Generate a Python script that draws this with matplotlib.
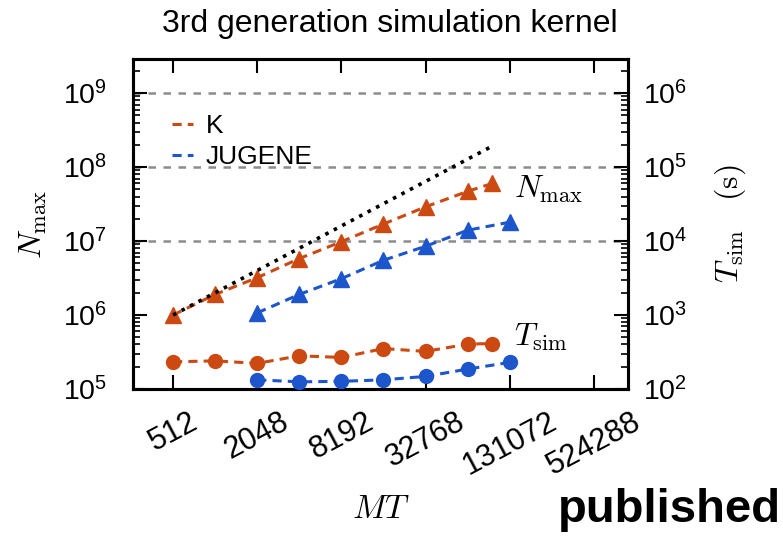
import matplotlib
matplotlib.use('Agg')
import matplotlib.pyplot as plt
from matplotlib.lines import Line2D
from matplotlib.ticker import LogLocator, FixedLocator, NullFormatter

plt.rcParams['font.family'] = ['Liberation Sans', 'DejaVu Sans']
plt.rcParams['mathtext.fontset'] = 'cm'

# MT (processes x threads)
mt_K = [512, 1024, 2048, 4096, 8192, 16384, 32768, 65536, 98304]
mt_J = [2048, 4096, 8192, 16384, 32768, 65536, 131072]

# maximum network size
nmax_K = [1.0e6, 1.9e6, 3.2e6, 5.8e6, 9.8e6, 1.7e7, 2.9e7, 4.7e7, 6.0e7]
nmax_J = [1.07e6, 1.9e6, 3.1e6, 5.5e6, 8.5e6, 1.4e7, 1.8e7]

# simulation time (s)
tsim_K = [233, 240, 222, 281, 267, 352, 322, 404, 412]
tsim_J = [133, 125, 127, 133, 148, 186, 229]

# ideal linear scaling
ideal_mt = [512, 98304]
ideal_n = [1.0e6, 1.92e8]

xticks = [512, 2048, 8192, 32768, 131072, 524288]
grid_levels = [1e7, 1e8, 1e9]

cK = '#cc4a12'
cJ = '#1c55cc'

fig = plt.figure(figsize=(7.83, 5.37), dpi=100)
ax = fig.add_axes([0.170, 0.2756, 0.632, 0.6144])
ax2 = ax.twinx()

ylo, yhi = 1e5, 10**9.46
ax.set_xscale('log', base=2)
ax.set_yscale('log')
ax2.set_yscale('log')
ax.set_xlim(2**8.05, 2**19.81)
ax.set_ylim(ylo, yhi)
ax2.set_ylim(ylo / 1000, yhi / 1000)

for g in grid_levels:
    ax.axhline(g, color='#8c8c8c', ls=(0, (3, 3)), lw=1.8, zorder=1)

ax.plot(ideal_mt, ideal_n, ':', color='black', lw=2.6, zorder=4)

dash = (0, (3, 2))
ax.plot(mt_K, nmax_K, ls=dash, color=cK, lw=2.2, marker='^', ms=11, zorder=3)
ax.plot(mt_J, nmax_J, ls=dash, color=cJ, lw=2.2, marker='^', ms=11, zorder=3)
ax2.plot(mt_K, tsim_K, ls=dash, color=cK, lw=2.2, marker='o', ms=10, zorder=3)
ax2.plot(mt_J, tsim_J, ls=dash, color=cJ, lw=2.2, marker='o', ms=10, zorder=3, clip_on=False)

ax.xaxis.set_major_locator(FixedLocator(xticks))
ax.xaxis.set_minor_locator(FixedLocator([]))
ax.set_xticklabels([str(t) for t in xticks], rotation=28, ha='center')

ax.yaxis.set_major_locator(LogLocator(base=10, numticks=10))
ax2.yaxis.set_major_locator(LogLocator(base=10, numticks=10))
for a in (ax, ax2):
    a.yaxis.set_minor_locator(LogLocator(base=10, subs=range(2, 10), numticks=20))
    a.yaxis.set_minor_formatter(NullFormatter())

ax.tick_params(axis='x', which='major', direction='in', length=10, width=1.5,
               labelsize=22, pad=13, top=True)
ax.tick_params(axis='y', which='major', direction='in', length=10, width=1.5,
               labelsize=20.5, pad=19)
ax.tick_params(axis='y', which='minor', direction='in', length=5, width=1.2)
ax2.tick_params(axis='y', which='major', direction='in', length=10, width=1.5,
                labelsize=20.5, pad=11)
ax2.tick_params(axis='y', which='minor', direction='in', length=5, width=1.2)

for a in (ax, ax2):
    for s in a.spines.values():
        s.set_linewidth(2.2)

ax.set_ylabel(r'$N_{\rm max}$', fontsize=23, labelpad=10)
ax2.set_ylabel(r'$T_{\rm sim}\quad({\rm s})$', fontsize=23, labelpad=18)
ax.set_xlabel(r'$MT$', fontsize=24, labelpad=9)

ax.text(140000, 5.0e7, r'$N_{\rm max}$', fontsize=23, va='center', ha='left')
ax.text(140000, 5.0e5, r'$T_{\rm sim}$', fontsize=23, va='center', ha='left')

handles = [Line2D([], [], ls=dash, color=cK, lw=2.2),
           Line2D([], [], ls=dash, color=cJ, lw=2.2)]
ax.legend(handles, ['K', 'JUGENE'], loc='upper left', bbox_to_anchor=(0.03, 0.905),
          frameon=False, fontsize=19, handlelength=0.8, handletextpad=0.5,
          labelspacing=0.25)

fig.text(0.498, 0.955, '3rd generation simulation kernel', fontsize=23,
         ha='center', va='center')
fig.text(0.998, 0.05, 'published', fontsize=34, fontweight='bold',
         ha='right', va='center')

fig.savefig('out.png', dpi=100)
